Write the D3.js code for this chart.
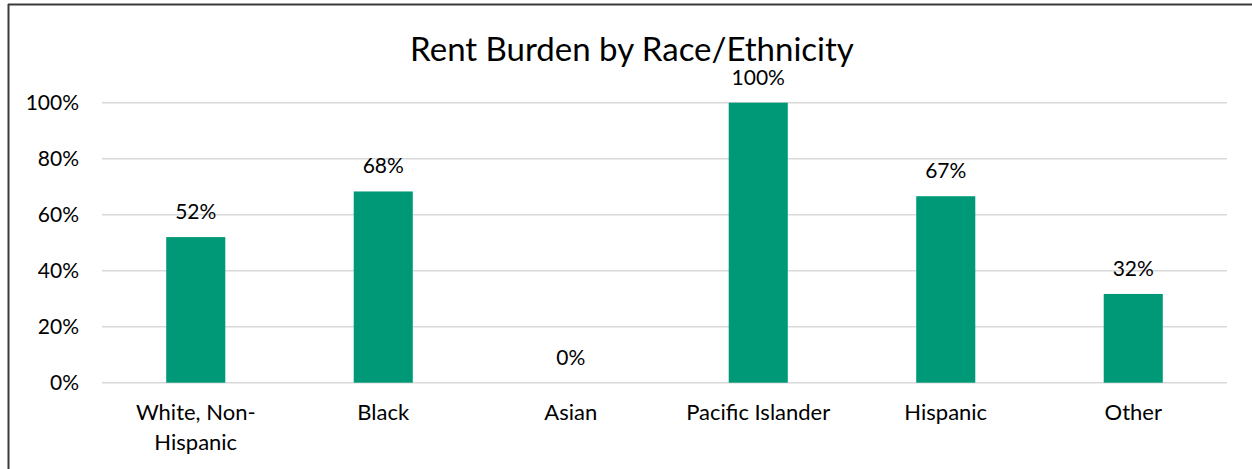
<!DOCTYPE html>
<html>
<head>
<meta charset="utf-8">
<script src="https://cdn.jsdelivr.net/npm/d3@7"></script>
<style>
  body { margin: 0; background: #fff; }
  svg text { font-family: Lato, "Open Sans", sans-serif; fill: #000; }
</style>
</head>
<body>
<svg id="chart" width="1252" height="469"></svg>
<script>
// data
var categories = ["White, Non-Hispanic", "Black", "Asian", "Pacific Islander", "Hispanic", "Other"];
var labelLines = [["White, Non-", "Hispanic"], ["Black"], ["Asian"], ["Pacific Islander"], ["Hispanic"], ["Other"]];
var burden = [0.52, 0.683, 0, 1.0, 0.666, 0.317];
var yTicks = [0, 0.2, 0.4, 0.6, 0.8, 1.0];

var svg = d3.select("#chart");
var plot = { left: 102, right: 1227, top: 102.7, bottom: 382.7 };

// chart frame (only top and left edges show in the crop)
svg.append("line").attr("x1", 8).attr("x2", 1252).attr("y1", 4.5).attr("y2", 4.5)
  .attr("stroke", "#3a3a3a").attr("stroke-width", 2);
svg.append("line").attr("x1", 8.5).attr("x2", 8.5).attr("y1", 4).attr("y2", 469)
  .attr("stroke", "#3a3a3a").attr("stroke-width", 2);

var x = d3.scaleBand().domain(categories).range([plot.left, plot.right]).padding(0);
var y = d3.scaleLinear().domain([0, 1]).range([plot.bottom, plot.top]);
var barW = x.bandwidth() * 0.315;

// gridlines
svg.append("g").selectAll("line").data(yTicks).join("line")
  .attr("x1", plot.left).attr("x2", plot.right)
  .attr("y1", function(d) { return y(d); }).attr("y2", function(d) { return y(d); })
  .attr("stroke", "#d9d9d9").attr("stroke-width", 1.5);

// y axis labels
var yAxis = d3.axisLeft(y).tickValues(yTicks).tickFormat(d3.format(".0%")).tickSize(0).tickPadding(23);
svg.append("g").attr("transform", "translate(" + plot.left + ",0)").call(yAxis)
  .call(function(g) { g.select(".domain").remove(); })
  .selectAll("text").style("font-size", "21px").style("font-family", "Lato, sans-serif").attr("fill", "#000");

// bars
svg.append("g").selectAll("rect").data(categories).join("rect")
  .attr("x", function(d) { return x(d) + x.bandwidth() / 2 - barW / 2; })
  .attr("width", barW)
  .attr("y", function(d, i) { return y(burden[i]); })
  .attr("height", function(d, i) { return y(0) - y(burden[i]); })
  .attr("fill", "#009977");

// value labels
svg.append("g").selectAll("text").data(categories).join("text")
  .attr("x", function(d) { return x(d) + x.bandwidth() / 2; })
  .attr("y", function(d, i) { return y(burden[i]) - 18; })
  .attr("text-anchor", "middle").style("font-size", "21px")
  .text(function(d, i) { return Math.round(burden[i] * 100) + "%"; });

// category labels
var cat = svg.append("g").selectAll("text").data(categories).join("text")
  .attr("x", function(d) { return x(d) + x.bandwidth() / 2; })
  .attr("y", 420)
  .attr("text-anchor", "middle").style("font-size", "22px");
cat.selectAll("tspan").data(function(d, i) { return labelLines[i]; }).join("tspan")
  .attr("x", function() { return d3.select(this.parentNode).attr("x"); })
  .attr("dy", function(d, i) { return i === 0 ? 0 : 30; })
  .text(function(d) { return d; });

// title
svg.append("text").attr("x", 632).attr("y", 61).attr("text-anchor", "middle")
  .style("font-size", "33px").text("Rent Burden by Race/Ethnicity");
</script>
</body>
</html>
